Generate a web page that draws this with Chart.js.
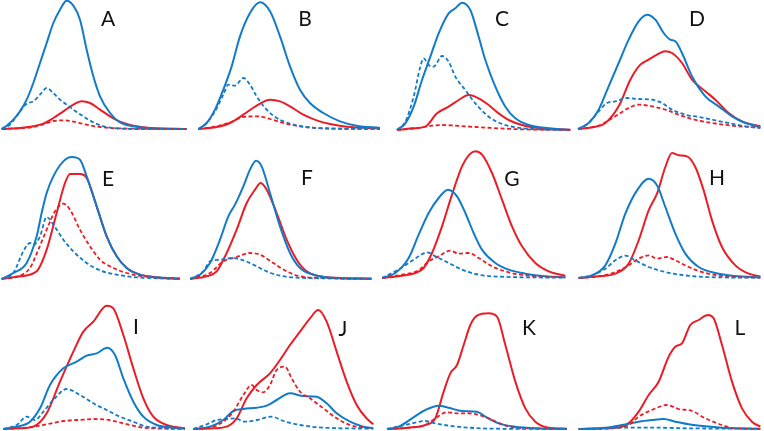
<!DOCTYPE html>
<html><head><meta charset="utf-8">
<script src="https://cdn.jsdelivr.net/npm/chart.js@4"></script>
<style>
html,body{margin:0;padding:0;background:#fff;}
#wrap{position:relative;width:764px;height:431px;overflow:hidden;}
canvas{position:absolute;}
.lbl{position:absolute;font-family:Lato,"Open Sans",sans-serif;font-size:21px;line-height:1;color:#111;transform:translate(-50%,-50%);}
</style></head>
<body><div id="wrap"></div>
<script>
// Panel letters
const letters = ['A','B','C','D','E','F','G','H','I','J','K','L'];
// x: time units (0..576), y: intensity units
const A_blueSolid = [[5,0],[20,10],[40,28],[60,53],[80,88],[100,138],[120,198],[140,258],[160,318],[180,358],[200,385],[220,370],[240,328],[260,238],[280,158],[300,98],[330,48],[360,20],[400,8],[450,2],[560,0]];
const A_blueDash = [[5,0],[30,13],[60,53],[80,76],[100,83],[120,103],[140,123],[160,108],[180,88],[200,73],[220,58],[250,38],[280,20],[310,8],[350,2],[400,0],[560,0]];
const A_redSolid = [[5,0],[60,3],[100,8],[130,16],[160,33],[190,53],[220,73],[245,83],[270,78],[300,58],[330,38],[360,22],[400,10],[450,3],[560,0]];
const A_redDash = [[5,0],[100,6],[130,14],[160,24],[190,26],[220,22],[260,13],[300,6],[350,2],[560,0]];

const B_blueSolid = [[25,0],[50,18],[75,58],[100,118],[125,188],[150,278],[180,348],[210,380],[240,353],[270,278],[300,188],[330,118],[360,78],[400,48],[450,23],[500,10],[570,3]];
const B_blueDash = [[25,0],[50,18],[75,53],[100,103],[115,133],[135,130],[160,153],[180,133],[200,98],[230,58],[260,33],[300,16],[350,6],[400,2],[570,0]];
const B_redSolid = [[25,0],[80,6],[120,18],[160,43],[200,70],[240,88],[270,83],[300,68],[340,43],[380,26],[420,15],[470,7],[570,2]];
const B_redDash = [[25,0],[80,8],[120,20],[160,36],[205,38],[240,30],[280,18],[330,8],[400,2],[570,0]];

const C_blueSolid = [[45,0],[70,20],[95,70],[120,150],[145,220],[170,290],[200,350],[220,365],[240,382],[265,360],[290,280],[310,210],[340,130],[370,70],[400,35],[440,15],[500,5],[565,0]];
const C_blueDash = [[45,0],[70,25],[95,100],[115,190],[125,215],[140,195],[155,190],[180,222],[200,205],[220,160],[250,120],[280,80],[320,40],[360,18],[400,8],[450,3],[565,0]];
const C_redSolid = [[45,0],[90,5],[130,10],[165,50],[200,70],[230,90],[260,105],[290,95],[320,75],[350,50],[380,30],[420,15],[470,6],[565,1]];
const C_redDash = [[45,0],[100,5],[150,13],[180,15],[220,13],[280,9],[350,5],[420,2],[565,0]];

const D_blueSolid = [[18,0],[50,18],[80,58],[110,128],[140,198],[170,268],[200,323],[225,343],[250,328],[275,288],[295,268],[310,263],[330,228],[360,158],[400,98],[440,68],[480,38],[520,18],[565,6]];
const D_blueDash = [[18,0],[50,18],[80,53],[105,78],[130,83],[165,93],[200,90],[240,88],[270,78],[300,58],[340,43],[380,36],[420,28],[470,18],[520,8],[565,3]];
const D_redSolid = [[18,0],[60,5],[100,18],[140,68],[175,148],[205,193],[230,208],[255,223],[280,233],[300,228],[330,198],[360,148],[400,113],[430,88],[470,48],[510,23],[565,8]];
const D_redDash = [[18,0],[80,10],[130,38],[170,63],[200,73],[240,68],[280,58],[320,43],[360,30],[420,18],[480,10],[565,4]];

const E_blueSolid = [[5,0],[40,18],[80,48],[110,128],[125,198],[140,258],[160,308],[190,353],[215,366],[240,358],[260,308],[290,218],[320,128],[350,68],[380,33],[420,13],[470,5],[540,1]];
const E_blueDash = [[5,0],[40,18],[70,83],[90,108],[100,103],[120,128],[140,186],[160,163],[190,118],[220,83],[260,48],[300,26],[350,13],[400,6],[470,2],[540,0]];
const E_redSolid = [[5,0],[60,8],[110,23],[140,88],[170,198],[195,288],[210,315],[240,315],[260,303],[290,218],[320,128],[350,68],[380,33],[420,13],[480,4],[540,1]];
const E_redDash = [[5,0],[60,10],[90,33],[115,88],[140,148],[165,203],[190,226],[210,208],[240,148],[270,98],[300,58],[340,33],[380,18],[430,8],[540,1]];

const F_blueSolid = [[0,0],[30,13],[60,48],[90,118],[115,188],[135,223],[160,278],[180,328],[198,355],[215,338],[240,258],[270,158],[300,78],[330,33],[370,13],[420,4],[545,1]];
const F_blueDash = [[0,0],[40,23],[60,53],[90,58],[125,63],[160,56],[190,43],[230,23],[270,10],[320,4],[545,1]];
const F_redSolid = [[0,0],[50,8],[80,23],[110,78],[140,148],[170,228],[195,268],[212,288],[230,268],[260,198],[290,118],[320,58],[350,23],[390,8],[450,3],[545,1]];
const F_redDash = [[0,0],[60,18],[100,53],[140,66],[180,78],[210,73],[250,48],[290,23],[330,8],[400,3],[545,0]];

const G_blueSolid = [[0,0],[40,15],[80,60],[110,130],[140,195],[170,240],[198,265],[225,245],[250,195],[275,135],[300,85],[340,45],[380,25],[430,13],[490,5],[550,2]];
const G_blueDash = [[0,0],[40,20],[80,45],[110,65],[135,77],[160,65],[200,45],[240,25],[280,12],[330,5],[550,1]];
const G_redSolid = [[0,0],[60,7],[100,15],[125,30],[150,75],[180,155],[210,250],[240,335],[262,370],[280,380],[300,370],[330,315],[360,235],[390,155],[420,95],[460,45],[500,20],[550,7]];
const G_redDash = [[0,0],[60,10],[110,23],[140,50],[170,65],[205,82],[230,73],[260,75],[290,60],[330,35],[380,17],[440,7],[550,2]];

const H_blueSolid = [[20,0],[60,8],[100,38],[130,103],[160,193],[195,263],[230,298],[255,278],[280,213],[310,133],[340,73],[380,33],[430,15],[490,6],[565,2]];
const H_blueDash = [[20,0],[60,8],[100,28],[130,53],[160,67],[190,53],[230,33],[280,18],[330,9],[400,3],[565,1]];
const H_redSolid = [[20,0],[80,5],[130,13],[170,43],[200,113],[230,203],[255,253],[280,333],[300,375],[320,368],[345,365],[370,333],[395,263],[420,173],[450,93],[490,38],[530,13],[565,5]];
const H_redDash = [[20,0],[80,5],[130,18],[170,38],[200,58],[230,68],[255,58],[285,63],[310,53],[350,33],[400,15],[460,5],[565,1]];

const I_blueSolid = [[10,0],[50,7],[90,22],[120,62],[150,132],[190,182],[230,202],[260,220],[290,227],[322,244],[345,222],[370,152],[400,82],[430,37],[470,12],[520,4],[555,1]];
const I_blueDash = [[10,0],[50,12],[80,37],[105,27],[130,52],[160,87],[200,120],[240,102],[280,77],[320,57],[360,37],[400,22],[440,7],[555,1]];
const I_redSolid = [[10,0],[60,2],[100,7],[140,47],[180,142],[220,232],[250,292],[280,322],[320,370],[340,362],[370,282],[400,182],[430,92],[460,37],[500,12],[555,2]];
const I_redDash = [[10,0],[80,4],[140,14],[190,24],[250,28],[280,30],[320,28],[350,22],[390,12],[430,4],[555,0]];

const J_blueSolid = [[10,0],[60,7],[100,27],[130,54],[160,60],[200,64],[230,70],[260,87],[300,107],[340,99],[380,97],[410,77],[440,47],[480,22],[520,7],[550,2]];
const J_blueDash = [[10,0],[50,14],[80,27],[110,30],[135,32],[165,22],[200,27],[245,37],[280,24],[330,12],[400,4],[550,1]];
const J_redSolid = [[10,0],[70,2],[110,7],[140,32],[170,92],[200,132],[240,167],[270,207],[300,252],[330,292],[360,332],[385,357],[410,322],[440,232],[470,142],[500,72],[530,32],[550,14]];
const J_redDash = [[10,0],[60,4],[100,22],[130,52],[160,102],[185,132],[200,117],[220,110],[240,132],[260,177],[285,187],[305,152],[330,112],[360,92],[400,62],[440,32],[480,12],[540,2]];

const K_blueSolid = [[15,0],[50,7],[90,32],[130,57],[170,70],[200,64],[240,54],[285,52],[310,37],[350,17],[400,7],[470,2],[555,0]];
const K_blueDash = [[15,0],[60,10],[100,19],[130,24],[160,17],[200,10],[260,4],[330,1],[555,0]];
const K_redSolid = [[15,0],[80,4],[130,12],[160,32],[185,112],[205,167],[225,192],[245,252],[265,312],[285,340],[320,347],[345,337],[370,252],[400,142],[430,62],[460,22],[500,4],[555,1]];
const K_redDash = [[15,0],[80,4],[130,12],[160,32],[195,50],[230,47],[260,47],[290,42],[320,32],[360,14],[400,4],[555,0]];

const L_blueSolid = [[20,0],[100,4],[150,12],[200,22],[240,27],[275,30],[310,22],[350,14],[400,8],[450,4],[565,1]];
const L_blueDash = [[20,0],[100,2],[150,4],[250,4],[350,2],[565,1]];
const L_redSolid = [[20,0],[100,2],[150,7],[175,22],[200,52],[230,102],[260,142],[290,217],[310,247],[330,257],[355,312],[380,327],[408,342],[425,332],[450,252],[480,142],[510,62],[540,22],[565,7]];
const L_redDash = [[20,0],[120,2],[170,12],[200,37],[240,57],[285,72],[320,60],[360,54],[400,32],[450,12],[490,2],[565,0]];

const series = {
  A:[A_blueSolid,A_blueDash,A_redSolid,A_redDash], B:[B_blueSolid,B_blueDash,B_redSolid,B_redDash],
  C:[C_blueSolid,C_blueDash,C_redSolid,C_redDash], D:[D_blueSolid,D_blueDash,D_redSolid,D_redDash],
  E:[E_blueSolid,E_blueDash,E_redSolid,E_redDash], F:[F_blueSolid,F_blueDash,F_redSolid,F_redDash],
  G:[G_blueSolid,G_blueDash,G_redSolid,G_redDash], H:[H_blueSolid,H_blueDash,H_redSolid,H_redDash],
  I:[I_blueSolid,I_blueDash,I_redSolid,I_redDash], J:[J_blueSolid,J_blueDash,J_redSolid,J_redDash],
  K:[K_blueSolid,K_blueDash,K_redSolid,K_redDash], L:[L_blueSolid,L_blueDash,L_redSolid,L_redDash]
};

// layout
const colLeft = [0,190,382,572];
const rowTop = [0,140,285];
const baseline = {A:388,B:388,C:390,D:388,E:418,F:418,G:415,H:413,I:432,J:432,K:432,L:432};
const labelPos = {A:[108,17],B:[305,17],C:[502,17],D:[697,17],E:[108,177],F:[307,176],G:[512,177],H:[717,176],I:[136,325],J:[343,327],K:[529,326],L:[740,326]};

const BLUE='#127bc9', RED='#ea1d27';
const styles=[{c:BLUE,d:[]},{c:BLUE,d:[4,2.5]},{c:RED,d:[]},{c:RED,d:[4,2.5]}];
const drawOrder=[1,3,0,2];
const wrap=document.getElementById('wrap');

letters.forEach((L,i)=>{
  const col=i%4,row=Math.floor(i/4);
  const h=Math.round((baseline[L]+9)/3);
  const cv=document.createElement('canvas');
  cv.width=192;cv.height=h;
  cv.style.left=colLeft[col]+'px';cv.style.top=rowTop[row]+'px';
  cv.style.width='192px';cv.style.height=h+'px';
  wrap.appendChild(cv);
  const ds=drawOrder.map(k=>({
    data:series[L][k].map(p=>({x:p[0],y:p[1]})),
    borderColor:styles[k].c,borderDash:styles[k].d,borderWidth:k%2?1.8:2,
    pointRadius:0,fill:false,cubicInterpolationMode:'monotone',clip:false
  }));
  new Chart(cv,{type:'line',data:{datasets:ds},options:{
    responsive:false,animation:false,devicePixelRatio:1,
    layout:{padding:0},
    plugins:{legend:{display:false},tooltip:{enabled:false}},
    scales:{x:{type:'linear',display:false,min:0,max:576},
            y:{display:false,min:-9,max:h*3-9}}
  }});
  const d=document.createElement('div');
  d.className='lbl';d.textContent=L;
  d.style.left=labelPos[L][0]+'px';d.style.top=labelPos[L][1]+'px';
  wrap.appendChild(d);
});
</script></body></html>
